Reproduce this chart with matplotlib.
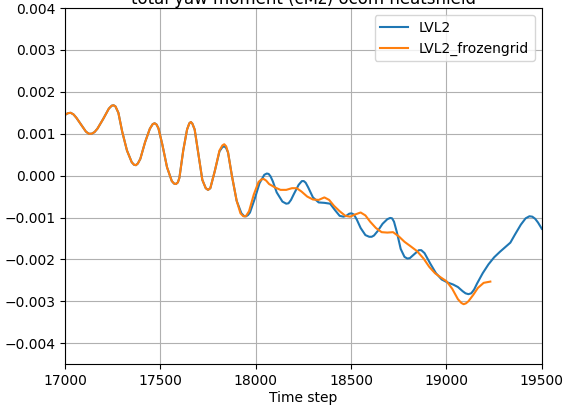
import numpy as np
import matplotlib
matplotlib.use('Agg')
import matplotlib.pyplot as plt

# shared part (both runs identical up to ~17810)
step_common = [17000, 17015, 17030, 17045, 17060, 17090, 17110, 17125, 17140, 17155, 17170, 17200, 17230, 17245, 17255, 17265,
               17280, 17300, 17325, 17350, 17362, 17372, 17382, 17395, 17420, 17445, 17460, 17470, 17480, 17490,
               17510, 17535, 17560, 17572, 17582, 17592, 17600, 17620, 17640, 17652, 17660, 17668, 17680, 17700,
               17720, 17738, 17750, 17762, 17785]
cmz_common = [0.00145, 0.00149, 0.00150, 0.00146, 0.00138, 0.00118, 0.00105, 0.00100, 0.00100, 0.00104, 0.00112, 0.00135, 0.00160, 0.00167, 0.00168, 0.00165,
              0.00150, 0.00105, 0.00060, 0.00032, 0.00026, 0.00025, 0.00029, 0.00040, 0.00080, 0.00112, 0.00123, 0.00125, 0.00122, 0.00113,
              0.00075, 0.00020, -0.00013, -0.00019, -0.00020, -0.00016, -0.00005, 0.00060, 0.00110, 0.00125, 0.00128, 0.00124, 0.00110, 0.00050,
              -0.00010, -0.00030, -0.00034, -0.00030, 0.00010]

step_lvl2 = [17810, 17825, 17835, 17845, 17855, 17875, 17900, 17925, 17940, 17950, 17960, 17970, 17995, 18020,
             18045, 18058, 18068, 18078, 18090, 18110, 18140, 18160, 18172, 18185, 18200, 18225, 18242, 18252, 18262, 18275,
             18300, 18330, 18360, 18390, 18415, 18440, 18460, 18475, 18490, 18502, 18515, 18530, 18550,
             18575, 18595, 18608, 18620, 18640, 18665, 18690, 18705, 18715, 18725, 18740, 18760, 18780, 18795, 18808,
             18830, 18855, 18868, 18885, 18915, 18945, 18975, 19005, 19035, 19060, 19085,
             19100, 19115, 19130, 19145, 19160, 19190, 19220, 19250, 19280, 19310, 19335, 19360,
             19390, 19415, 19435, 19450, 19465, 19480, 19500]
cmz_lvl2 = [0.00058, 0.00068, 0.00070, 0.00066, 0.00055, 0.00000, -0.00060, -0.00090, -0.00097, -0.00097, -0.00094, -0.00088, -0.00055, -0.00018,
            0.00002, 0.00005, 0.00004, -0.00002, -0.00014, -0.00040, -0.00062, -0.00067, -0.00066, -0.00058, -0.00044, -0.00022, -0.00013, -0.00013, -0.00017, -0.00028,
            -0.00052, -0.00064, -0.00065, -0.00067, -0.00082, -0.00096, -0.00098, -0.00096, -0.00091, -0.00090, -0.00093, -0.00105, -0.00125,
            -0.00142, -0.00146, -0.00146, -0.00143, -0.00132, -0.00115, -0.00104, -0.00101, -0.00102, -0.00110, -0.00135, -0.00175, -0.00194, -0.00198, -0.00197,
            -0.00188, -0.00178, -0.00178, -0.00185, -0.00210, -0.00233, -0.00248, -0.00255, -0.00260, -0.00266, -0.00276,
            -0.00281, -0.00283, -0.00281, -0.00272, -0.00258, -0.00233, -0.00212, -0.00195, -0.00182, -0.00170, -0.00160, -0.00140,
            -0.00117, -0.00102, -0.00097, -0.00098, -0.00103, -0.00112, -0.00127]

step_frozen = [17810, 17825, 17835, 17845, 17855, 17875, 17900, 17920, 17935, 17948, 17965, 17990, 18015,
               18030, 18042, 18055, 18070, 18100, 18130, 18160, 18190, 18215, 18240, 18270, 18300,
               18330, 18360, 18385, 18410, 18440, 18470, 18495, 18520, 18550, 18575,
               18600, 18630, 18660, 18690, 18720, 18750, 18780, 18810, 18845, 18880,
               18910, 18940, 18970, 19000, 19030, 19060, 19078, 19090, 19102, 19115, 19140, 19165,
               19195, 19230]
cmz_frozen = [0.00060, 0.00072, 0.00075, 0.00070, 0.00055, 0.00000, -0.00060, -0.00090, -0.00097, -0.00097, -0.00085, -0.00045, -0.00015,
              -0.00009, -0.00008, -0.00012, -0.00020, -0.00028, -0.00034, -0.00034, -0.00030, -0.00030, -0.00038, -0.00050, -0.00057,
              -0.00058, -0.00052, -0.00058, -0.00072, -0.00085, -0.00096, -0.00098, -0.00093, -0.00088, -0.00095,
              -0.00110, -0.00125, -0.00135, -0.00136, -0.00135, -0.00145, -0.00158, -0.00168, -0.00180, -0.00198,
              -0.00218, -0.00233, -0.00243, -0.00252, -0.00270, -0.00295, -0.00304, -0.00307, -0.00305, -0.00300, -0.00285, -0.00268,
              -0.00256, -0.00253]

x1 = step_common + step_lvl2
y1 = cmz_common + cmz_lvl2
x2 = step_common + step_frozen
y2 = cmz_common + cmz_frozen

fig = plt.figure(figsize=(5.65, 4.05), dpi=100)
ax = fig.add_axes([0.115, 0.101, 0.844, 0.879])

ax.plot(x1, y1, label='LVL2')
ax.plot(x2, y2, label='LVL2_frozengrid')

ax.set_xlim(17000, 19500)
ax.set_ylim(-0.0045, 0.004)
ax.set_xticks(np.arange(17000, 19501, 500))
ax.set_yticks(np.arange(-0.004, 0.00401, 0.001))
ax.grid(True)
ax.set_xlabel('Time step', labelpad=2)
ax.set_title('total yaw moment (cMz) ocom heatshield', pad=-1.5)
ax.legend(loc='upper right')

fig.savefig('out.png')
